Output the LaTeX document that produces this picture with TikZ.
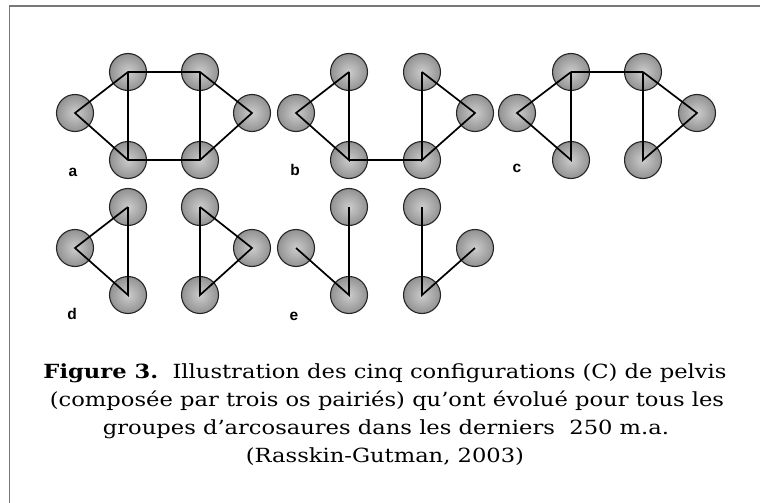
\documentclass[tikz,border=0pt]{standalone}
\usepackage{fontspec}
\setmainfont[FakeStretch=1.16]{DejaVu Serif}
\newfontfamily\labelfont{Liberation Sans}
\definecolor{boneIn}{gray}{0.80}
\definecolor{boneMid}{gray}{0.60}
\definecolor{boneOut}{gray}{0.38}
\definecolor{frameGray}{gray}{0.47}
\pgfdeclareradialshading{boneshade}{\pgfpoint{0bp}{0bp}}{%
  color(0bp)=(boneIn); color(22bp)=(boneMid); color(40bp)=(boneOut); color(50bp)=(boneOut)}
\tikzset{
  bone/.style={circle, inner sep=0pt, minimum size=37pt, shading=boneshade,
               draw=black!85, line width=1.1pt},
  link/.style={line width=1.7pt, black, line join=miter},
  panellabel/.style={font=\labelfont\bfseries\fontsize{15.5}{15.5}\selectfont, anchor=center},
  captionline/.style={font=\fontsize{19.5}{22}\selectfont, anchor=base}
}
\begin{document}
\begin{tikzpicture}[x=1pt, y=-1pt]
\useasboundingbox (0,0) rectangle (760,503);
% open frame: only the top and left edges are inside the page
\draw[frameGray, line width=1.1pt] (760,6) -- (9.5,6) -- (9.5,503);

% ---- configuration a: six bones, closed hexagon with two chords
\node[bone] (a1) at (75,113) {};
\node[bone] (a2) at (128,72) {};
\node[bone] (a3) at (200,72) {};
\node[bone] (a4) at (252,113) {};
\node[bone] (a5) at (128,160) {};
\node[bone] (a6) at (200,160) {};
\draw[link] (a1.center) -- (a2.center) -- (a3.center) -- (a4.center) -- (a6.center)
            -- (a5.center) -- cycle;
\draw[link] (a2.center) -- (a5.center);
\draw[link] (a3.center) -- (a6.center);
\node[panellabel] (la) at (73,172) {a};

% ---- configuration b: two triangles joined at the bottom
\node[bone] (b1) at (296,113) {};
\node[bone] (b2) at (349,72) {};
\node[bone] (b3) at (349,160) {};
\node[bone] (b4) at (422,72) {};
\node[bone] (b5) at (475,113) {};
\node[bone] (b6) at (422,160) {};
\draw[link] (b2.center) -- (b1.center) -- (b3.center) -- (b2.center);
\draw[link] (b3.center) -- (b6.center);
\draw[link] (b4.center) -- (b5.center) -- (b6.center) -- (b4.center);
\node[panellabel] (lb) at (295,170) {b};

% ---- configuration c: two triangles joined at the top
\node[bone] (c1) at (517,113) {};
\node[bone] (c2) at (571,72) {};
\node[bone] (c3) at (571,160) {};
\node[bone] (c4) at (643,72) {};
\node[bone] (c5) at (697,113) {};
\node[bone] (c6) at (643,160) {};
\draw[link] (c2.center) -- (c1.center) -- (c3.center) -- (c2.center);
\draw[link] (c2.center) -- (c4.center);
\draw[link] (c4.center) -- (c5.center) -- (c6.center) -- (c4.center);
\node[panellabel] (lc) at (517,168) {c};

% ---- configuration d: two separate triangles
\node[bone] (d1) at (75,248) {};
\node[bone] (d2) at (128,207) {};
\node[bone] (d3) at (128,295) {};
\node[bone] (d4) at (200,207) {};
\node[bone] (d5) at (252,248) {};
\node[bone] (d6) at (200,295) {};
\draw[link] (d2.center) -- (d1.center) -- (d3.center) -- (d2.center);
\draw[link] (d4.center) -- (d5.center) -- (d6.center) -- (d4.center);
\node[panellabel] (ld) at (72,314) {d};

% ---- configuration e: two open chains
\node[bone] (e1) at (296,248) {};
\node[bone] (e2) at (349,207) {};
\node[bone] (e3) at (349,295) {};
\node[bone] (e4) at (422,207) {};
\node[bone] (e5) at (475,248) {};
\node[bone] (e6) at (422,295) {};
\draw[link] (e1.center) -- (e3.center) -- (e2.center);
\draw[link] (e4.center) -- (e6.center) -- (e5.center);
\node[panellabel] (le) at (294,316) {e};

% ---- caption
\node[captionline] (cap1) at (385,378) {\textbf{Figure 3.}\ \ Illustration des cinq configurations (C) de pelvis};
\node[captionline] (cap2) at (387,406) {(composée par trois os pairiés) qu’ont évolué pour tous les};
\node[captionline] (cap3) at (386,434) {groupes d’arcosaures dans les derniers\ \ 250 m.a.};
\node[captionline] (cap4) at (385,462) {(Rasskin-Gutman, 2003)};
\end{tikzpicture}
\end{document}
